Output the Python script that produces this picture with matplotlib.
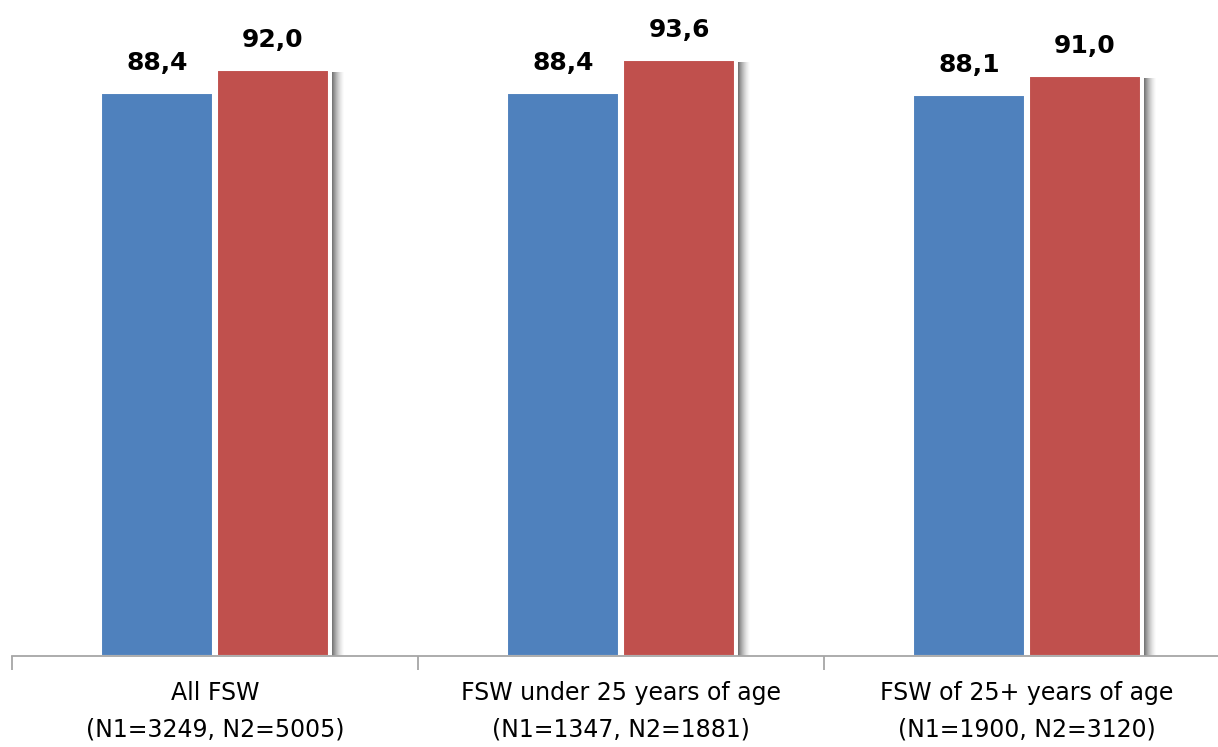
import matplotlib.pyplot as plt
from matplotlib.patches import Rectangle
import numpy as np

groups = ['All FSW\n(N1=3249, N2=5005)',
          'FSW under 25 years of age\n(N1=1347, N2=1881)',
          'FSW of 25+ years of age\n(N1=1900, N2=3120)']
survey1 = [88.4, 88.4, 88.1]
survey2 = [92.0, 93.6, 91.0]

blue = '#4F81BD'
red = '#C0504D'

fig = plt.figure(figsize=(12.18, 7.47), dpi=100)
ax = fig.add_axes([12 / 1218, 91 / 747, 1218 / 1218, 656 / 747])

x = np.arange(len(groups))
w = 0.276
off = 0.143
px = 1 / 406.0  # one pixel in x data units

def fmt(v):
    return f'{v:.1f}'.replace('.', ',')

for vals, col, sign in [(survey1, blue, -1), (survey2, red, 1)]:
    pos = x + sign * off
    if sign > 0:
        # soft grey shadow on the right side of each pair
        for xi, v in zip(pos, vals):
            right = xi + w / 2
            for k in range(12):
                a = 0.8 * (1 - k / 12) ** 1.5
                ax.add_patch(Rectangle((right + (3 + k) * px, 0), px, v - 0.3,
                                       facecolor='#555555', edgecolor='none',
                                       alpha=a, zorder=1))
    bars = ax.bar(pos, vals, width=w, color=col, edgecolor='white',
                  linewidth=1.5, zorder=2)
    for b, v in zip(bars, vals):
        ax.annotate(fmt(v), (b.get_x() + b.get_width() / 2, v),
                    xytext=(0, 13), textcoords='offset points',
                    ha='center', va='bottom', fontsize=18, fontweight='bold',
                    color='black')

ax.set_xlim(-0.5, 2.5)
ax.set_ylim(0, 103.0)
for s in ['left', 'right', 'top']:
    ax.spines[s].set_visible(False)
ax.spines['bottom'].set_color('#A6A6A6')
ax.spines['bottom'].set_linewidth(1.3)
ax.set_yticks([])
ax.set_xticks(x)
ax.set_xticklabels(groups, fontsize=17, linespacing=1.65)
ax.tick_params(axis='x', which='major', length=0, pad=18)
ax.set_xticks([-0.5, 0.5, 1.5, 2.5], minor=True)
ax.tick_params(axis='x', which='minor', length=10, width=1.3, color='#A6A6A6')

fig.savefig('out.png', dpi=100)
